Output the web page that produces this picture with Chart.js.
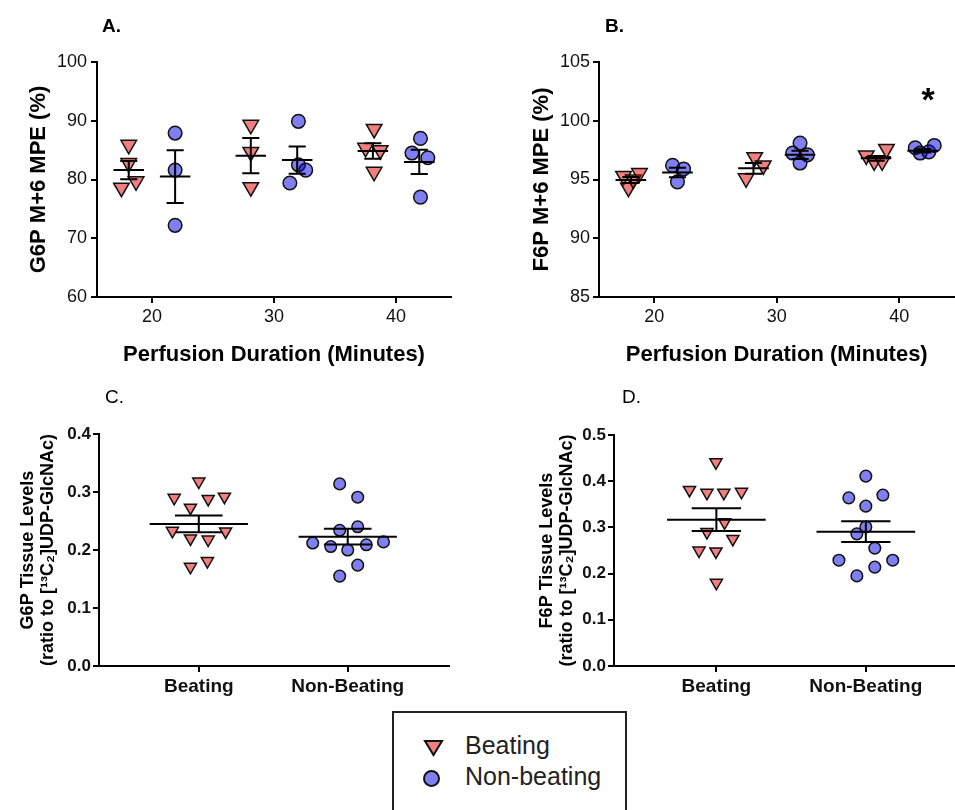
<!DOCTYPE html>
<html>
<head>
<meta charset="utf-8">
<script src="https://cdn.jsdelivr.net/npm/chart.js@4.4.1/dist/chart.umd.min.js"></script>
<style>
  html, body { margin: 0; padding: 0; background: #fff; }
  body { width: 955px; height: 810px; position: relative; overflow: hidden; font-family: "Liberation Sans", Arial, sans-serif; }
  canvas { position: absolute; }
  .tag { position: absolute; font-size: 19px; line-height: 19px; color: #000; }
  #legendBox { position: absolute; left: 392px; top: 711px; width: 235px; height: 130px; border: 2px solid #222; box-sizing: border-box; }
  .legText { position: absolute; left: 465px; font-size: 25px; line-height: 25px; color: #222; white-space: nowrap; }
  .legMark { position: absolute; }
</style>
</head>
<body>
<canvas id="chartA" width="470" height="370" style="left:0;top:0"></canvas>
<canvas id="chartB" width="495" height="370" style="left:470px;top:0"></canvas>
<canvas id="chartC" width="470" height="330" style="left:0;top:370px"></canvas>
<canvas id="chartD" width="494" height="330" style="left:470px;top:370px"></canvas>

<div class="tag" style="left:102px;top:16px;font-weight:bold">A.</div>
<div class="tag" style="left:605px;top:16px;font-weight:bold">B.</div>
<div class="tag" style="left:105px;top:387px">C.</div>
<div class="tag" style="left:622px;top:387px">D.</div>

<div id="legendBox"></div>
<svg class="legMark" style="left:423px;top:738px" width="21" height="21">
  <polygon points="2,3 19,3 10.5,17" fill="rgba(230,0,0,0.5)" stroke="#111" stroke-width="2"/>
</svg>
<svg class="legMark" style="left:421px;top:768px" width="21" height="21">
  <circle cx="10.5" cy="10.5" r="7.5" fill="rgba(0,0,230,0.5)" stroke="#111" stroke-width="2"/>
</svg>
<div class="legText" style="top:733px">Beating</div>
<div class="legText" style="top:764px">Non-beating</div>

<script>
// Panels A/B: x = perfusion minutes (points jittered around each group), y = % MPE
const MINUTES = [20, 30, 40];

const A_BEATING = [
    [18.1, 85.9], [18.1, 82.8], [17.5, 78.6], [18.7, 79.7],
    [28.1, 89.3], [28.1, 84.7], [28.1, 78.7],
    [38.2, 88.6], [37.5, 85.4], [38.7, 85.0], [38.2, 81.3]
];
const A_NONBEATING = [
    [21.9, 87.9], [21.9, 81.6], [21.9, 72.2],
    [32.0, 89.9], [32.0, 82.5], [32.6, 81.6], [31.3, 79.4],
    [42.0, 87.0], [41.3, 84.5], [42.6, 83.7], [42.0, 77.0]
];
const A_BEATING_MEAN = [81.6, 84.05, 84.85];
const A_BEATING_SEM = [1.55, 3.0, 1.3];
const A_NONBEATING_MEAN = [80.5, 83.3, 83.0];
const A_NONBEATING_SEM = [4.5, 2.3, 2.05];

const B_BEATING = [
    [17.5, 95.3], [17.9, 94.3], [18.3, 95.0], [18.8, 95.55],
    [27.5, 95.1], [28.2, 96.9], [28.9, 96.2],
    [37.3, 97.05], [37.95, 96.55], [38.6, 96.55], [38.95, 97.6]
];
const B_NONBEATING = [
    [21.5, 96.2], [22.4, 95.9], [21.9, 94.8],
    [31.9, 98.1], [31.3, 97.25], [32.5, 97.1], [31.9, 96.4],
    [41.3, 97.7], [41.7, 97.25], [42.4, 97.35], [42.85, 97.9]
];
const B_BEATING_MEAN = [94.96, 95.95, 96.8];
const B_BEATING_SEM = [0.25, 0.45, 0.2];
const B_NONBEATING_MEAN = [95.6, 97.1, 97.45];
const B_NONBEATING_SEM = [0.4, 0.35, 0.15];
const B_STAR = [42.35, 102.45];

// Panels C/D: x = group index (1 beating, 2 non-beating, jittered), y = ratio
const GROUPS = ["Beating", "Non-Beating"];

const C_BEATING = [
    [1.0, 0.318], [0.835, 0.29], [1.063, 0.288], [1.172, 0.292], [0.944, 0.273],
    [0.823, 0.233], [1.18, 0.232], [0.944, 0.22], [1.063, 0.218], [1.058, 0.181], [0.944, 0.171]
];
const C_NONBEATING = [
    [1.946, 0.314], [2.067, 0.291], [1.946, 0.234], [2.067, 0.240], [1.765, 0.212],
    [1.886, 0.206], [2.0, 0.200], [2.125, 0.209], [2.24, 0.214], [2.067, 0.174], [1.946, 0.155]
];
const C_MEAN = [0.245, 0.223];
const C_SEM = [0.0145, 0.0135];

const D_BEATING = [
    [0.997, 0.441], [0.82, 0.381], [0.937, 0.375], [1.05, 0.375], [1.168, 0.377],
    [1.055, 0.311], [0.937, 0.29], [1.11, 0.275], [0.884, 0.25], [0.997, 0.248], [1.0, 0.180]
];
const D_NONBEATING = [
    [2.0, 0.411], [1.886, 0.364], [2.114, 0.370], [2.0, 0.346], [2.0, 0.301],
    [1.94, 0.286], [2.06, 0.255], [1.82, 0.229], [2.18, 0.229], [2.06, 0.214], [1.94, 0.195]
];
const D_MEAN = [0.3167, 0.2907];
const D_SEM = [0.0245, 0.0225];

const FONT = '"Liberation Sans", Arial, sans-serif';
const BEAT_FILL = "rgba(230, 0, 0, 0.5)";
const NONBEAT_FILL = "rgba(0, 0, 230, 0.5)";
const GROUP_SHIFT = 1.9;

const toPoints = pairs => pairs.map(p => ({ x: p[0], y: p[1] }));

function meanSemPlugin(groups, halfMean, halfCap) {
    return {
        id: "meanSem",
        afterDatasetsDraw(chart) {
            const { ctx, scales: { x, y } } = chart;
            ctx.save();
            ctx.strokeStyle = "#000";
            ctx.lineWidth = 2;
            groups.forEach(([cx, mean, sem]) => {
                const xp = x.getPixelForValue(cx);
                const yMean = y.getPixelForValue(mean);
                const yHi = y.getPixelForValue(mean + sem);
                const yLo = y.getPixelForValue(mean - sem);
                ctx.beginPath();
                ctx.moveTo(x.getPixelForValue(cx - halfMean), yMean);
                ctx.lineTo(x.getPixelForValue(cx + halfMean), yMean);
                ctx.moveTo(x.getPixelForValue(cx - halfCap), yHi);
                ctx.lineTo(x.getPixelForValue(cx + halfCap), yHi);
                ctx.moveTo(x.getPixelForValue(cx - halfCap), yLo);
                ctx.lineTo(x.getPixelForValue(cx + halfCap), yLo);
                ctx.moveTo(xp, yHi);
                ctx.lineTo(xp, yLo);
                ctx.stroke();
            });
            ctx.restore();
        }
    };
}

const starPlugin = {
    id: "sigStar",
    afterDatasetsDraw(chart) {
        const { ctx, scales: { x, y } } = chart;
        ctx.save();
        ctx.font = "bold 34px " + FONT;
        ctx.textAlign = "center";
        ctx.textBaseline = "alphabetic";
        ctx.fillStyle = "#000";
        ctx.fillText("*", x.getPixelForValue(B_STAR[0]), y.getPixelForValue(B_STAR[1]) + 0.57 * 34);
        ctx.restore();
    }
};

function datasets(beating, nonBeating, triR, circR) {
    return [
        {
            label: "Beating",
            data: toPoints(beating),
            pointStyle: "triangle",
            pointRotation: 180,
            pointRadius: triR,
            pointBackgroundColor: BEAT_FILL,
            pointBorderColor: "#111",
            pointBorderWidth: 1.5
        },
        {
            label: "Non-beating",
            data: toPoints(nonBeating),
            pointStyle: "circle",
            pointRadius: circR,
            pointBackgroundColor: NONBEAT_FILL,
            pointBorderColor: "#111",
            pointBorderWidth: 1.5
        }
    ];
}

function panelOptions(o) {
    const axisLine = { display: true, color: "#000", width: 2 };
    const tickMarks = { drawOnChartArea: false, drawTicks: true, tickLength: 6, color: "#000", lineWidth: 2 };
    return {
        responsive: false,
        animation: false,
        layout: { padding: { top: o.padTop, right: o.padRight, left: 0, bottom: 0 } },
        plugins: { legend: { display: false }, tooltip: { enabled: false } },
        scales: {
            x: {
                type: "linear",
                min: o.xMin,
                max: o.xMax,
                afterBuildTicks: s => { s.ticks = o.xTicks.map(v => ({ value: v })); },
                afterFit: s => { s.height = o.xHeight; },
                ticks: { font: o.xTickFont, color: "#111", padding: 3, maxRotation: 0, autoSkip: false, callback: o.xLabel },
                grid: tickMarks,
                border: axisLine,
                title: o.xTitle
                    ? { display: true, text: o.xTitle, color: "#000", font: { family: FONT, size: 22, weight: "bold" }, padding: { top: 0, bottom: 2 } }
                    : { display: false }
            },
            y: {
                min: o.yMin,
                max: o.yMax,
                afterFit: s => { s.width = o.yWidth; },
                ticks: { stepSize: o.yStep, font: o.yTickFont, color: "#111", padding: o.yTickPad, callback: o.yLabel },
                grid: tickMarks,
                border: axisLine,
                title: { display: true, text: o.yTitle, color: "#000", font: o.yTitleFont, padding: { top: o.yTitlePad, bottom: 0 } }
            }
        }
    };
}

const minuteGroups = (bMean, bSem, nMean, nSem) =>
    MINUTES.map((m, i) => [m - GROUP_SHIFT, bMean[i], bSem[i]])
        .concat(MINUTES.map((m, i) => [m + GROUP_SHIFT, nMean[i], nSem[i]]));

const smallTick = { family: FONT, size: 18 };
const boldTick = { family: FONT, size: 17, weight: "bold" };
const bigTitle = { family: FONT, size: 22, weight: "bold" };
const twoLineTitle = { family: FONT, size: 18, weight: "bold", lineHeight: 1.1 };

new Chart(document.getElementById("chartA"), {
    type: "scatter",
    data: { datasets: datasets(A_BEATING, A_NONBEATING, 9, 6.8) },
    options: panelOptions({
        padTop: 62, padRight: 19, xHeight: 73, yWidth: 97,
        xMin: 15.5, xMax: 44.5, xTicks: MINUTES, xTickFont: smallTick, xLabel: v => v,
        xTitle: "Perfusion Duration (Minutes)",
        yMin: 60, yMax: 100, yStep: 10, yTickFont: smallTick, yTickPad: 4, yLabel: v => v,
        yTitle: "G6P M+6 MPE (%)", yTitleFont: bigTitle, yTitlePad: 26
    }),
    plugins: [meanSemPlugin(minuteGroups(A_BEATING_MEAN, A_BEATING_SEM, A_NONBEATING_MEAN, A_NONBEATING_SEM), 1.25, 0.7)]
});

new Chart(document.getElementById("chartB"), {
    type: "scatter",
    data: { datasets: datasets(B_BEATING, B_NONBEATING, 9, 6.8) },
    options: panelOptions({
        padTop: 62, padRight: 2, xHeight: 73, yWidth: 129,
        xMin: 15.5, xMax: 44.5, xTicks: MINUTES, xTickFont: smallTick, xLabel: v => v,
        xTitle: "Perfusion Duration (Minutes)",
        yMin: 85, yMax: 105, yStep: 5, yTickFont: smallTick, yTickPad: 3, yLabel: v => v,
        yTitle: "F6P M+6 MPE (%)", yTitleFont: bigTitle, yTitlePad: 59
    }),
    plugins: [meanSemPlugin(minuteGroups(B_BEATING_MEAN, B_BEATING_SEM, B_NONBEATING_MEAN, B_NONBEATING_SEM), 1.25, 0.7), starPlugin]
});

new Chart(document.getElementById("chartC"), {
    type: "scatter",
    data: { datasets: datasets(C_BEATING, C_NONBEATING, 7, 5.8) },
    options: panelOptions({
        padTop: 64, padRight: 21, xHeight: 34, yWidth: 99,
        xMin: 0.33, xMax: 2.68, xTicks: [1, 2], xTickFont: { family: FONT, size: 19, weight: "bold" },
        xLabel: v => GROUPS[v - 1], xTitle: null,
        yMin: 0, yMax: 0.4, yStep: 0.1, yTickFont: boldTick, yTickPad: 2, yLabel: v => v.toFixed(1),
        yTitle: ["G6P Tissue Levels", "(ratio to [\u00b9\u00b3C\u2082]UDP-GlcNAc)"], yTitleFont: twoLineTitle, yTitlePad: 18
    }),
    plugins: [meanSemPlugin(GROUPS.map((g, i) => [i + 1, C_MEAN[i], C_SEM[i]]), 0.33, 0.16)]
});

new Chart(document.getElementById("chartD"), {
    type: "scatter",
    data: { datasets: datasets(D_BEATING, D_NONBEATING, 7, 5.8) },
    options: panelOptions({
        padTop: 65, padRight: 0, xHeight: 34, yWidth: 144,
        xMin: 0.315, xMax: 2.6, xTicks: [1, 2], xTickFont: { family: FONT, size: 19, weight: "bold" },
        xLabel: v => GROUPS[v - 1], xTitle: null,
        yMin: 0, yMax: 0.5, yStep: 0.1, yTickFont: boldTick, yTickPad: 2, yLabel: v => v.toFixed(1),
        yTitle: ["F6P Tissue Levels", "(ratio to [\u00b9\u00b3C\u2082]UDP-GlcNAc)"], yTitleFont: twoLineTitle, yTitlePad: 67
    }),
    plugins: [meanSemPlugin(GROUPS.map((g, i) => [i + 1, D_MEAN[i], D_SEM[i]]), 0.33, 0.165)]
});
</script>
</body>
</html>
